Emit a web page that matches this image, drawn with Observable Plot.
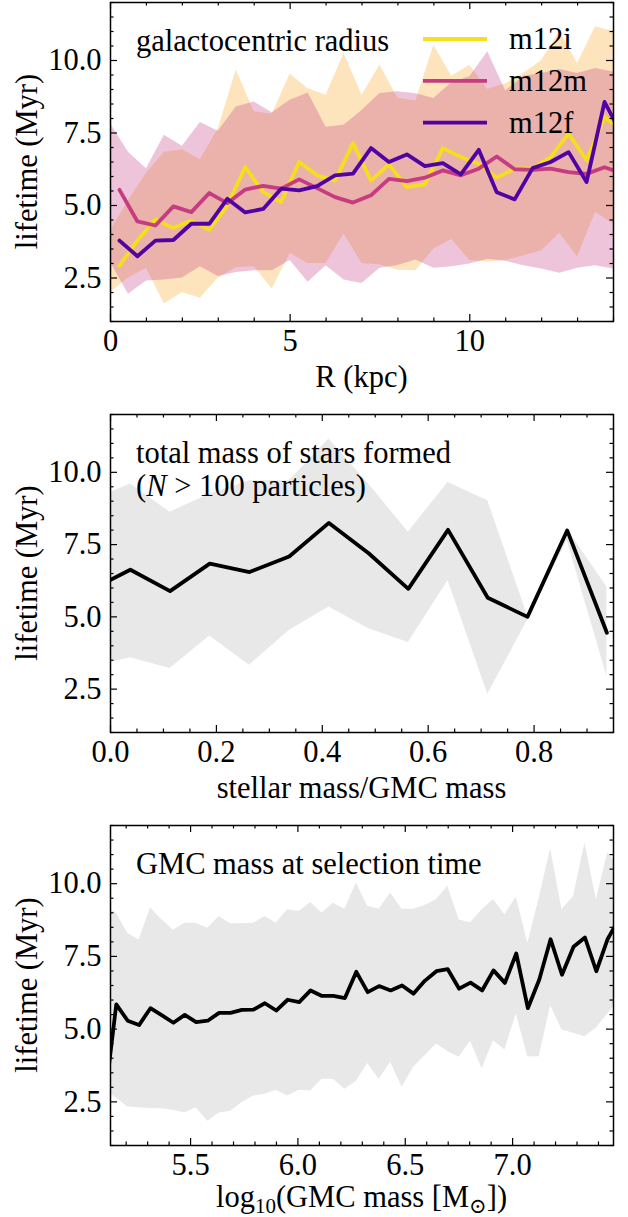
<!DOCTYPE html>
<html><head><meta charset="utf-8">
<script src="https://cdn.jsdelivr.net/npm/d3@7"></script>
<script src="https://cdn.jsdelivr.net/npm/@observablehq/plot@0.6"></script>
<style>
html,body{margin:0;padding:0;background:#fff}
#c{width:628px}
svg{display:block}
#c svg text{font-family:"Liberation Serif","DejaVu Serif","Times New Roman",Tinos,serif !important;font-size:30.5px}
</style>
</head><body><div id="c"></div>
<script>
// ---------------- data ----------------
// panel 1: lifetime vs galactocentric radius
const rCentres = [0.25,0.75,1.25,1.75,2.25,2.75,3.25,3.75,4.25,4.75,5.25,5.75,6.25,6.75,7.25,7.75,8.25,8.75,9.25,9.75,10.25,10.75,11.25,11.75,12.25,12.75,13.25,13.75,14.25];
const m12iMedian = [2.93,3.79,4.52,4.22,4.48,4.16,5.0,6.32,5.46,5.12,6.5,6.04,5.86,7.15,5.86,6.42,5.63,5.73,6.98,6.67,6.44,5.96,6.27,6.29,6.67,7.48,6.56,8.05,7.55];
const m12mMedian = [5.54,4.45,4.31,4.97,4.77,5.43,5.08,5.55,5.68,5.58,5.90,5.60,5.29,5.10,5.35,5.92,5.84,5.96,6.21,6.04,6.27,6.69,6.25,6.23,6.27,6.15,6.09,6.32,6.10];
const m12fMedian = [3.79,3.25,3.79,3.81,4.37,4.37,5.23,4.76,4.88,5.58,5.52,5.67,6.04,6.10,6.98,6.50,6.76,6.36,6.46,6.07,6.92,5.46,5.21,6.29,6.50,6.84,5.81,8.57,7.40];
const rEdges = [0,0.5,1,1.5,2,2.5,3,3.5,4,4.5,5,5.5,6,6.5,7,7.5,8,8.5,9,9.5,10,10.5,11,11.5,12,12.5,13,13.5,14];
const m12iHigh = [4.13,5.17,6.1,6.84,6.92,6.58,7.65,9.67,8.23,8.15,9.53,9.03,8.8,10.24,8.8,9.84,8.7,8.6,10.53,9.46,9.84,9.0,9.2,9.55,10.0,11.0,9.9,11.16,11.0];
const m12iLow  = [2.0,2.5,2.84,1.6,2.0,1.8,2.5,2.85,2.9,2.12,3.35,3.0,3.0,4.02,3.0,2.96,2.77,2.75,3.5,3.84,3.1,3.05,3.1,3.27,3.44,4.04,3.23,4.77,4.36];
const m12mHigh = [7.82,6.84,6.27,7.42,7.04,7.86,7.56,8.4,8.57,8.2,8.63,8.88,7.7,7.77,8.28,8.86,8.92,8.85,8.69,9.23,9.44,10.3,8.95,9.46,9.55,9.69,9.55,9.72,9.6];
const m12mLow  = [3.04,1.94,2.4,2.43,2.5,2.89,2.55,2.69,2.75,2.75,3.1,2.35,2.92,2.43,2.31,2.84,2.93,3.12,2.84,2.89,2.98,3.15,3.08,2.92,2.81,2.66,2.84,2.92,2.81];
const galaxies = ["m12i","m12m","m12f"];
const galaxyColors = ["#f4df1e","#c53c80","#5003a2"];

// panel 2: lifetime vs stellar mass / GMC mass
const effX = [-0.0375,0.0375,0.1125,0.1875,0.2625,0.3375,0.4125,0.4875,0.5625,0.6375,0.7125,0.7875,0.8625,0.9375];
const effMedian = [5.93,6.63,5.89,6.84,6.55,7.09,8.25,7.20,5.97,8.01,5.66,5.00,7.99,4.45];
const effHigh   = [9.0,9.6,8.62,9.25,9.71,9.71,11.15,9.6,7.93,9.65,9.02,5.05,8.04,6.03];
const effLow    = [3.25,3.59,3.21,4.34,3.33,4.53,5.34,4.59,4.11,6.26,2.32,4.88,7.64,2.95];

// panel 3: lifetime vs log10 GMC mass
const massX = [5.100,5.154,5.207,5.260,5.313,5.367,5.420,5.473,5.526,5.580,5.633,5.686,5.739,5.793,5.846,5.899,5.952,6.006,6.059,6.112,6.165,6.219,6.272,6.325,6.378,6.432,6.485,6.538,6.591,6.645,6.698,6.751,6.804,6.858,6.911,6.964,7.017,7.071,7.124,7.177,7.230,7.284,7.337,7.390,7.443,7.497];
const massMedian = [2.55,5.85,5.29,5.14,5.72,5.47,5.22,5.49,5.24,5.29,5.56,5.56,5.66,5.67,5.89,5.64,6.01,5.93,6.33,6.14,6.14,6.07,6.97,6.27,6.48,6.33,6.5,6.22,6.66,6.99,7.06,6.39,6.6,6.33,7.02,6.59,7.6,5.72,6.7,8.09,6.87,7.83,8.15,6.99,8.1,8.8];
const massHigh = [9.2,8.99,8.3,8.06,9.16,8.75,8.4,8.64,8.64,8.47,8.87,8.62,8.62,8.64,8.87,8.64,9.1,9.04,9.35,8.99,9.33,9.12,10.02,9.22,9.12,9.68,9.12,9.12,9.25,9.45,9.91,8.75,8.66,9.1,9.45,8.93,9.54,7.95,9.5,11.2,9.1,9.56,11.4,9.45,11.06,10.55];
const massLow  = [2.88,2.64,2.32,2.3,2.27,2.26,2.21,2.12,2.3,1.83,2.12,2.18,2.47,2.7,2.76,2.9,2.7,2.9,2.87,3.28,3.28,2.93,3.2,3.82,3.28,3.86,3.0,3.68,4.08,4.49,4.23,4.03,4.58,3.64,4.6,4.28,5.52,4.05,4.05,5.81,4.97,4.86,4.74,5.04,5.52,6.0];

// ticks
const yTicks = [2.5,5.0,7.5,10.0];
const yMinor = [1,1.5,2,3,3.5,4,4.5,5.5,6,6.5,7,8,8.5,9,9.5,10.5,11,11.5,12];
const rTicks = [0,5,10];
const rMinor = [1,2,3,4,6,7,8,9,11,12,13,14];
const effTicks = [0.0,0.2,0.4,0.6,0.8];
const effMinor = [0.05,0.1,0.15,0.25,0.3,0.35,0.45,0.5,0.55,0.65,0.7,0.75,0.85,0.9];
const massTicks = [5.5,6.0,6.5,7.0];
const massMinor = [5.2,5.3,5.4,5.6,5.7,5.8,5.9,6.1,6.2,6.3,6.4,6.6,6.7,6.8,6.9,7.1,7.2,7.3,7.4];

// ---------------- helpers ----------------
const W = 628, ML = 110, MR = 15;
const FONT = "Liberation Serif, DejaVu Serif, serif";
const FS = 30.5;
const LW = 3.8;
const rows = (xs, ...cols) => xs.map((x, i) => ({x, a: cols[0][i], b: cols[1] ? cols[1][i] : undefined}));

function panel(o) {
  const H = o.height, mt = o.marginTop, mb = o.marginBottom;
  const fh = H - mt - mb, fw = W - ML - MR;
  const MAJ = 7, MIN = 3.5;
  const tk = {stroke: "black", strokeWidth: 1.2};
  const tickMarks = [
    Plot.tickX(o.xTicks, {x: d => d, insetTop: fh - MAJ, ...tk}),
    Plot.tickX(o.xTicks, {x: d => d, insetBottom: fh - MAJ, ...tk}),
    Plot.tickX(o.xMinor, {x: d => d, insetTop: fh - MIN, ...tk}),
    Plot.tickX(o.xMinor, {x: d => d, insetBottom: fh - MIN, ...tk}),
    Plot.tickY(yTicks, {y: d => d, insetRight: fw - MAJ, ...tk}),
    Plot.tickY(yTicks, {y: d => d, insetLeft: fw - MAJ, ...tk}),
    Plot.tickY(yMinor, {y: d => d, insetRight: fw - MIN, ...tk}),
    Plot.tickY(yMinor, {y: d => d, insetLeft: fw - MIN, ...tk})
  ];
  const svg = Plot.plot({
    width: W, height: H, marginLeft: ML, marginRight: MR, marginTop: mt, marginBottom: mb,
    x: {domain: o.xDomain},
    y: {domain: [1, 12]},
    style: {fontFamily: FONT, fontSize: FS + "px", background: "white", color: "black", overflow: "visible"},
    marks: [
      ...o.marks,
      ...tickMarks,
      Plot.frame({stroke: "black", strokeWidth: 1.5}),
      Plot.axisX(o.xTicks, {tickSize: 0, tickPadding: 8, tickFormat: o.xFormat, label: null, fontSize: FS, fill: "black"}),
      Plot.axisY(yTicks, {tickSize: 0, tickPadding: 9, tickFormat: d => d.toFixed(1), label: null, fontSize: FS, fill: "black"})
    ]
  });
  const s = d3.select(svg);
  const xr = svg.scale("x").range, yr = svg.scale("y").range;
  const fx0 = Math.min(...xr), fx1 = Math.max(...xr);
  const fy0 = Math.min(...yr), fy1 = Math.max(...yr);
  const txt = () => s.append("text").attr("font-size", FS).attr("fill", "black").attr("text-anchor", "start");
  // y label
  txt().attr("transform", `translate(37,${(fy0 + fy1) / 2}) rotate(-90)`).attr("text-anchor", "middle").text("lifetime (Myr)");
  // x label
  const xl = txt().attr("x", (fx0 + fx1) / 2).attr("y", fy1 + o.xlabelOffset).attr("text-anchor", "middle");
  o.xlabel(xl);
  // annotation
  const an = txt().attr("x", fx0 + 26).attr("y", fy0 + 49);
  o.annot(an, fx0, fy0);
  if (o.after) o.after(s, fx0, fy0, txt);
  return svg;
}

const box = document.getElementById("c");

// ---------------- panel 1 ----------------
const medians = [m12iMedian, m12mMedian, m12fMedian];
box.appendChild(panel({
  height: 411, marginTop: 2, marginBottom: 90,
  xDomain: [0, 14], xTicks: rTicks, xMinor: rMinor, xFormat: d => String(d),
  xlabelOffset: 66,
  marks: [
    Plot.areaY(rows(rEdges, m12iLow, m12iHigh), {x: "x", y1: "a", y2: "b", fill: "#f9a526", fillOpacity: 0.3, clip: true}),
    Plot.areaY(rows(rEdges, m12mLow, m12mHigh), {x: "x", y1: "a", y2: "b", fill: "#c53c80", fillOpacity: 0.3, clip: true}),
    ...galaxies.map((g, i) => Plot.line(rows(rCentres, medians[i]), {x: "x", y: "a", stroke: galaxyColors[i], strokeWidth: LW, clip: true}))
  ],
  xlabel: t => t.text("R (kpc)"),
  annot: t => t.text("galactocentric radius"),
  after: (s, fx0, fy0, txt) => {
    galaxies.forEach((g, i) => {
      const y = fy0 + 37 + i * 41.8;
      s.append("line").attr("x1", 423).attr("x2", 487).attr("y1", y).attr("y2", y)
        .attr("stroke", galaxyColors[i]).attr("stroke-width", LW);
      txt().attr("x", 509).attr("y", y + 10).text(g);
    });
  }
}));

// ---------------- panel 2 ----------------
box.appendChild(panel({
  height: 411, marginTop: 3, marginBottom: 90,
  xDomain: [0, 0.95], xTicks: effTicks, xMinor: effMinor, xFormat: d => d.toFixed(1),
  xlabelOffset: 66,
  marks: [
    Plot.areaY(rows(effX, effLow, effHigh), {x: "x", y1: "a", y2: "b", fill: "#e8e8e8", clip: true}),
    Plot.line(rows(effX, effMedian), {x: "x", y: "a", stroke: "black", strokeWidth: LW, clip: true})
  ],
  xlabel: t => t.text("stellar mass/GMC mass"),
  annot: (t, fx0, fy0) => {
    t.text("total mass of stars formed");
    const t2 = t.clone().text(null).attr("y", fy0 + 82);
    t2.append("tspan").text("(");
    t2.append("tspan").attr("font-style", "italic").text("N");
    t2.append("tspan").text(" > 100 particles)");
  }
}));

// ---------------- panel 3 ----------------
box.appendChild(panel({
  height: 395, marginTop: 3, marginBottom: 72,
  xDomain: [5.127, 7.470], xTicks: massTicks, xMinor: massMinor, xFormat: d => d.toFixed(1),
  xlabelOffset: 62,
  marks: [
    Plot.areaY(rows(massX, massLow, massHigh), {x: "x", y1: "a", y2: "b", fill: "#e8e8e8", clip: true}),
    Plot.line(rows(massX, massMedian), {x: "x", y: "a", stroke: "black", strokeWidth: LW, clip: true})
  ],
  xlabel: t => {
    t.append("tspan").text("log");
    t.append("tspan").attr("font-size", 21).attr("dy", 6).text("10");
    t.append("tspan").attr("dy", -6).text("(GMC mass [M");
    t.append("tspan").attr("font-size", 21).attr("dy", 6).text("⊙");
    t.append("tspan").attr("dy", -6).text("])");
  },
  annot: t => t.text("GMC mass at selection time")
}));
</script>
</body></html>
